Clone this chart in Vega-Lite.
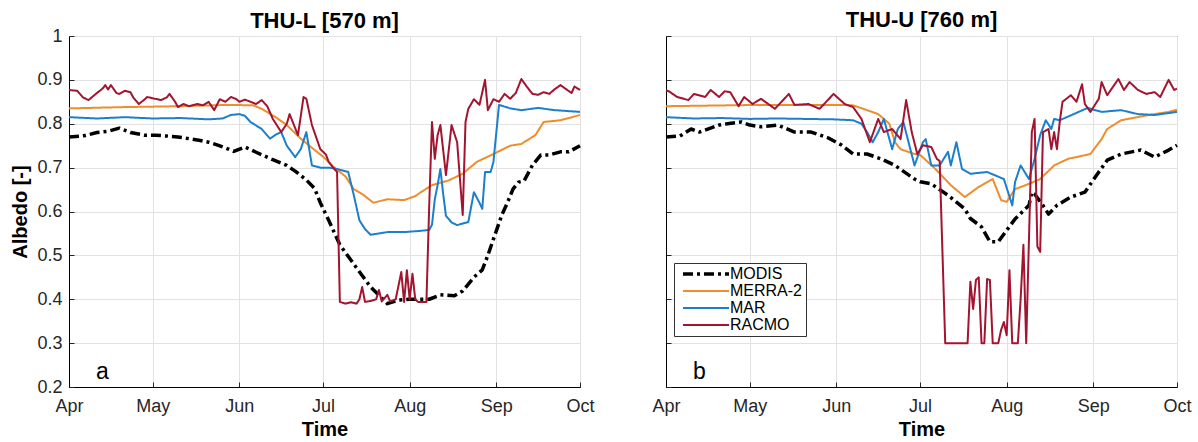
{
  "$schema": "https://vega.github.io/schema/vega-lite/v6.json",
  "padding": {"left": 10, "top": 8, "right": 5, "bottom": 0},
  "spacing": 86,
  "bounds": "flush",
  "config": {
    "font": "Liberation Sans",
    "view": {"stroke": "black", "strokeWidth": 1},
    "axis": {"gridColor": "#e2e2e2", "gridWidth": 1, "domainColor": "black", "labelFontSize": 18, "labelColor": "#262626", "titleFontSize": 20, "titleFontWeight": "bold", "titleColor": "black", "ticks": true, "tickSize": -5, "tickColor": "#262626", "tickWidth": 1},
    "axisX": {"labelPadding": 15, "titlePadding": 4, "labelFlush": false},
    "axisY": {"labelPadding": 12, "titlePadding": 6},
    "title": {"fontSize": 22, "fontWeight": "bold", "color": "black"}
  },
  "datasets": {
    "thuL": [
      {"date": "2016-04-01", "model": "MODIS", "albedo": 0.77},
      {"date": "2016-04-06", "model": "MODIS", "albedo": 0.772},
      {"date": "2016-04-11", "model": "MODIS", "albedo": 0.78},
      {"date": "2016-04-15", "model": "MODIS", "albedo": 0.783},
      {"date": "2016-04-19", "model": "MODIS", "albedo": 0.79},
      {"date": "2016-04-23", "model": "MODIS", "albedo": 0.78},
      {"date": "2016-04-28", "model": "MODIS", "albedo": 0.774},
      {"date": "2016-05-02", "model": "MODIS", "albedo": 0.774},
      {"date": "2016-05-06", "model": "MODIS", "albedo": 0.772},
      {"date": "2016-05-10", "model": "MODIS", "albedo": 0.77},
      {"date": "2016-05-14", "model": "MODIS", "albedo": 0.766},
      {"date": "2016-05-18", "model": "MODIS", "albedo": 0.762},
      {"date": "2016-05-21", "model": "MODIS", "albedo": 0.758},
      {"date": "2016-05-24", "model": "MODIS", "albedo": 0.752},
      {"date": "2016-05-27", "model": "MODIS", "albedo": 0.745},
      {"date": "2016-05-30", "model": "MODIS", "albedo": 0.737},
      {"date": "2016-06-03", "model": "MODIS", "albedo": 0.747},
      {"date": "2016-06-07", "model": "MODIS", "albedo": 0.735},
      {"date": "2016-06-13", "model": "MODIS", "albedo": 0.718},
      {"date": "2016-06-18", "model": "MODIS", "albedo": 0.705},
      {"date": "2016-06-21", "model": "MODIS", "albedo": 0.692},
      {"date": "2016-06-25", "model": "MODIS", "albedo": 0.672},
      {"date": "2016-06-28", "model": "MODIS", "albedo": 0.652},
      {"date": "2016-06-30", "model": "MODIS", "albedo": 0.62},
      {"date": "2016-07-03", "model": "MODIS", "albedo": 0.58},
      {"date": "2016-07-07", "model": "MODIS", "albedo": 0.524},
      {"date": "2016-07-12", "model": "MODIS", "albedo": 0.48},
      {"date": "2016-07-18", "model": "MODIS", "albedo": 0.428},
      {"date": "2016-07-24", "model": "MODIS", "albedo": 0.39},
      {"date": "2016-07-28", "model": "MODIS", "albedo": 0.398},
      {"date": "2016-08-01", "model": "MODIS", "albedo": 0.4},
      {"date": "2016-08-08", "model": "MODIS", "albedo": 0.4},
      {"date": "2016-08-12", "model": "MODIS", "albedo": 0.41},
      {"date": "2016-08-17", "model": "MODIS", "albedo": 0.408},
      {"date": "2016-08-20", "model": "MODIS", "albedo": 0.419},
      {"date": "2016-08-24", "model": "MODIS", "albedo": 0.45},
      {"date": "2016-08-27", "model": "MODIS", "albedo": 0.467},
      {"date": "2016-08-29", "model": "MODIS", "albedo": 0.5},
      {"date": "2016-08-31", "model": "MODIS", "albedo": 0.537},
      {"date": "2016-09-03", "model": "MODIS", "albedo": 0.592},
      {"date": "2016-09-05", "model": "MODIS", "albedo": 0.62},
      {"date": "2016-09-07", "model": "MODIS", "albedo": 0.651},
      {"date": "2016-09-09", "model": "MODIS", "albedo": 0.667},
      {"date": "2016-09-11", "model": "MODIS", "albedo": 0.67},
      {"date": "2016-09-14", "model": "MODIS", "albedo": 0.706},
      {"date": "2016-09-17", "model": "MODIS", "albedo": 0.729},
      {"date": "2016-09-20", "model": "MODIS", "albedo": 0.729},
      {"date": "2016-09-24", "model": "MODIS", "albedo": 0.736},
      {"date": "2016-09-27", "model": "MODIS", "albedo": 0.736},
      {"date": "2016-10-01", "model": "MODIS", "albedo": 0.75},

      {"date": "2016-04-01", "model": "MERRA-2", "albedo": 0.835},
      {"date": "2016-04-21", "model": "MERRA-2", "albedo": 0.838},
      {"date": "2016-05-11", "model": "MERRA-2", "albedo": 0.84},
      {"date": "2016-05-28", "model": "MERRA-2", "albedo": 0.843},
      {"date": "2016-06-06", "model": "MERRA-2", "albedo": 0.842},
      {"date": "2016-06-09", "model": "MERRA-2", "albedo": 0.834},
      {"date": "2016-06-14", "model": "MERRA-2", "albedo": 0.815},
      {"date": "2016-06-18", "model": "MERRA-2", "albedo": 0.797},
      {"date": "2016-06-23", "model": "MERRA-2", "albedo": 0.766},
      {"date": "2016-06-28", "model": "MERRA-2", "albedo": 0.74},
      {"date": "2016-07-01", "model": "MERRA-2", "albedo": 0.725},
      {"date": "2016-07-05", "model": "MERRA-2", "albedo": 0.7},
      {"date": "2016-07-09", "model": "MERRA-2", "albedo": 0.68},
      {"date": "2016-07-12", "model": "MERRA-2", "albedo": 0.651},
      {"date": "2016-07-15", "model": "MERRA-2", "albedo": 0.64},
      {"date": "2016-07-19", "model": "MERRA-2", "albedo": 0.62},
      {"date": "2016-07-24", "model": "MERRA-2", "albedo": 0.628},
      {"date": "2016-07-30", "model": "MERRA-2", "albedo": 0.626},
      {"date": "2016-08-03", "model": "MERRA-2", "albedo": 0.635},
      {"date": "2016-08-05", "model": "MERRA-2", "albedo": 0.644},
      {"date": "2016-08-09", "model": "MERRA-2", "albedo": 0.66},
      {"date": "2016-08-15", "model": "MERRA-2", "albedo": 0.671},
      {"date": "2016-08-20", "model": "MERRA-2", "albedo": 0.686},
      {"date": "2016-08-25", "model": "MERRA-2", "albedo": 0.713},
      {"date": "2016-08-31", "model": "MERRA-2", "albedo": 0.731},
      {"date": "2016-09-06", "model": "MERRA-2", "albedo": 0.75},
      {"date": "2016-09-10", "model": "MERRA-2", "albedo": 0.754},
      {"date": "2016-09-15", "model": "MERRA-2", "albedo": 0.774},
      {"date": "2016-09-18", "model": "MERRA-2", "albedo": 0.804},
      {"date": "2016-09-24", "model": "MERRA-2", "albedo": 0.808},
      {"date": "2016-10-01", "model": "MERRA-2", "albedo": 0.82},

      {"date": "2016-04-01", "model": "MAR", "albedo": 0.815},
      {"date": "2016-04-11", "model": "MAR", "albedo": 0.812},
      {"date": "2016-04-21", "model": "MAR", "albedo": 0.815},
      {"date": "2016-05-01", "model": "MAR", "albedo": 0.812},
      {"date": "2016-05-11", "model": "MAR", "albedo": 0.813},
      {"date": "2016-05-21", "model": "MAR", "albedo": 0.81},
      {"date": "2016-05-26", "model": "MAR", "albedo": 0.812},
      {"date": "2016-05-29", "model": "MAR", "albedo": 0.82},
      {"date": "2016-06-01", "model": "MAR", "albedo": 0.822},
      {"date": "2016-06-03", "model": "MAR", "albedo": 0.818},
      {"date": "2016-06-05", "model": "MAR", "albedo": 0.804},
      {"date": "2016-06-09", "model": "MAR", "albedo": 0.788},
      {"date": "2016-06-12", "model": "MAR", "albedo": 0.766},
      {"date": "2016-06-14", "model": "MAR", "albedo": 0.775},
      {"date": "2016-06-16", "model": "MAR", "albedo": 0.781},
      {"date": "2016-06-18", "model": "MAR", "albedo": 0.75},
      {"date": "2016-06-21", "model": "MAR", "albedo": 0.724},
      {"date": "2016-06-23", "model": "MAR", "albedo": 0.742},
      {"date": "2016-06-25", "model": "MAR", "albedo": 0.781},
      {"date": "2016-06-27", "model": "MAR", "albedo": 0.705},
      {"date": "2016-06-30", "model": "MAR", "albedo": 0.7},
      {"date": "2016-07-03", "model": "MAR", "albedo": 0.7},
      {"date": "2016-07-06", "model": "MAR", "albedo": 0.697},
      {"date": "2016-07-10", "model": "MAR", "albedo": 0.69},
      {"date": "2016-07-12", "model": "MAR", "albedo": 0.637},
      {"date": "2016-07-14", "model": "MAR", "albedo": 0.58},
      {"date": "2016-07-16", "model": "MAR", "albedo": 0.56},
      {"date": "2016-07-18", "model": "MAR", "albedo": 0.547},
      {"date": "2016-07-24", "model": "MAR", "albedo": 0.553},
      {"date": "2016-07-30", "model": "MAR", "albedo": 0.553},
      {"date": "2016-08-05", "model": "MAR", "albedo": 0.556},
      {"date": "2016-08-08", "model": "MAR", "albedo": 0.558},
      {"date": "2016-08-09", "model": "MAR", "albedo": 0.57},
      {"date": "2016-08-10", "model": "MAR", "albedo": 0.628},
      {"date": "2016-08-11", "model": "MAR", "albedo": 0.66},
      {"date": "2016-08-12", "model": "MAR", "albedo": 0.697},
      {"date": "2016-08-13", "model": "MAR", "albedo": 0.64},
      {"date": "2016-08-14", "model": "MAR", "albedo": 0.59},
      {"date": "2016-08-16", "model": "MAR", "albedo": 0.575},
      {"date": "2016-08-18", "model": "MAR", "albedo": 0.569},
      {"date": "2016-08-22", "model": "MAR", "albedo": 0.576},
      {"date": "2016-08-24", "model": "MAR", "albedo": 0.644},
      {"date": "2016-08-26", "model": "MAR", "albedo": 0.62},
      {"date": "2016-08-27", "model": "MAR", "albedo": 0.606},
      {"date": "2016-08-28", "model": "MAR", "albedo": 0.69},
      {"date": "2016-08-30", "model": "MAR", "albedo": 0.69},
      {"date": "2016-08-31", "model": "MAR", "albedo": 0.713},
      {"date": "2016-09-02", "model": "MAR", "albedo": 0.843},
      {"date": "2016-09-06", "model": "MAR", "albedo": 0.835},
      {"date": "2016-09-10", "model": "MAR", "albedo": 0.831},
      {"date": "2016-09-16", "model": "MAR", "albedo": 0.836},
      {"date": "2016-09-22", "model": "MAR", "albedo": 0.831},
      {"date": "2016-10-01", "model": "MAR", "albedo": 0.827},

      {"date": "2016-04-01", "model": "RACMO", "albedo": 0.877},
      {"date": "2016-04-04", "model": "RACMO", "albedo": 0.875},
      {"date": "2016-04-06", "model": "RACMO", "albedo": 0.86},
      {"date": "2016-04-08", "model": "RACMO", "albedo": 0.854},
      {"date": "2016-04-11", "model": "RACMO", "albedo": 0.87},
      {"date": "2016-04-13", "model": "RACMO", "albedo": 0.88},
      {"date": "2016-04-14", "model": "RACMO", "albedo": 0.888},
      {"date": "2016-04-15", "model": "RACMO", "albedo": 0.878},
      {"date": "2016-04-16", "model": "RACMO", "albedo": 0.888},
      {"date": "2016-04-18", "model": "RACMO", "albedo": 0.87},
      {"date": "2016-04-19", "model": "RACMO", "albedo": 0.868},
      {"date": "2016-04-21", "model": "RACMO", "albedo": 0.875},
      {"date": "2016-04-23", "model": "RACMO", "albedo": 0.872},
      {"date": "2016-04-24", "model": "RACMO", "albedo": 0.86},
      {"date": "2016-04-26", "model": "RACMO", "albedo": 0.845},
      {"date": "2016-04-28", "model": "RACMO", "albedo": 0.855},
      {"date": "2016-04-29", "model": "RACMO", "albedo": 0.861},
      {"date": "2016-05-01", "model": "RACMO", "albedo": 0.858},
      {"date": "2016-05-04", "model": "RACMO", "albedo": 0.854},
      {"date": "2016-05-06", "model": "RACMO", "albedo": 0.86},
      {"date": "2016-05-07", "model": "RACMO", "albedo": 0.868},
      {"date": "2016-05-09", "model": "RACMO", "albedo": 0.85},
      {"date": "2016-05-10", "model": "RACMO", "albedo": 0.838},
      {"date": "2016-05-12", "model": "RACMO", "albedo": 0.845},
      {"date": "2016-05-14", "model": "RACMO", "albedo": 0.84},
      {"date": "2016-05-17", "model": "RACMO", "albedo": 0.845},
      {"date": "2016-05-19", "model": "RACMO", "albedo": 0.842},
      {"date": "2016-05-21", "model": "RACMO", "albedo": 0.85},
      {"date": "2016-05-23", "model": "RACMO", "albedo": 0.831},
      {"date": "2016-05-25", "model": "RACMO", "albedo": 0.856},
      {"date": "2016-05-27", "model": "RACMO", "albedo": 0.85},
      {"date": "2016-05-29", "model": "RACMO", "albedo": 0.861},
      {"date": "2016-05-31", "model": "RACMO", "albedo": 0.856},
      {"date": "2016-06-01", "model": "RACMO", "albedo": 0.85},
      {"date": "2016-06-03", "model": "RACMO", "albedo": 0.855},
      {"date": "2016-06-05", "model": "RACMO", "albedo": 0.85},
      {"date": "2016-06-07", "model": "RACMO", "albedo": 0.845},
      {"date": "2016-06-09", "model": "RACMO", "albedo": 0.854},
      {"date": "2016-06-11", "model": "RACMO", "albedo": 0.84},
      {"date": "2016-06-13", "model": "RACMO", "albedo": 0.811},
      {"date": "2016-06-16", "model": "RACMO", "albedo": 0.781},
      {"date": "2016-06-18", "model": "RACMO", "albedo": 0.8},
      {"date": "2016-06-19", "model": "RACMO", "albedo": 0.822},
      {"date": "2016-06-21", "model": "RACMO", "albedo": 0.79},
      {"date": "2016-06-22", "model": "RACMO", "albedo": 0.774},
      {"date": "2016-06-24", "model": "RACMO", "albedo": 0.861},
      {"date": "2016-06-25", "model": "RACMO", "albedo": 0.857},
      {"date": "2016-06-27", "model": "RACMO", "albedo": 0.797},
      {"date": "2016-06-30", "model": "RACMO", "albedo": 0.742},
      {"date": "2016-07-02", "model": "RACMO", "albedo": 0.73},
      {"date": "2016-07-03", "model": "RACMO", "albedo": 0.713},
      {"date": "2016-07-05", "model": "RACMO", "albedo": 0.697},
      {"date": "2016-07-06", "model": "RACMO", "albedo": 0.69},
      {"date": "2016-07-07", "model": "RACMO", "albedo": 0.394},
      {"date": "2016-07-09", "model": "RACMO", "albedo": 0.39},
      {"date": "2016-07-11", "model": "RACMO", "albedo": 0.393},
      {"date": "2016-07-13", "model": "RACMO", "albedo": 0.39},
      {"date": "2016-07-14", "model": "RACMO", "albedo": 0.4},
      {"date": "2016-07-15", "model": "RACMO", "albedo": 0.428},
      {"date": "2016-07-16", "model": "RACMO", "albedo": 0.394},
      {"date": "2016-07-18", "model": "RACMO", "albedo": 0.396},
      {"date": "2016-07-20", "model": "RACMO", "albedo": 0.4},
      {"date": "2016-07-21", "model": "RACMO", "albedo": 0.421},
      {"date": "2016-07-22", "model": "RACMO", "albedo": 0.395},
      {"date": "2016-07-24", "model": "RACMO", "albedo": 0.41},
      {"date": "2016-07-25", "model": "RACMO", "albedo": 0.395},
      {"date": "2016-07-27", "model": "RACMO", "albedo": 0.4},
      {"date": "2016-07-29", "model": "RACMO", "albedo": 0.462},
      {"date": "2016-07-30", "model": "RACMO", "albedo": 0.394},
      {"date": "2016-07-31", "model": "RACMO", "albedo": 0.466},
      {"date": "2016-08-01", "model": "RACMO", "albedo": 0.4},
      {"date": "2016-08-02", "model": "RACMO", "albedo": 0.458},
      {"date": "2016-08-03", "model": "RACMO", "albedo": 0.4},
      {"date": "2016-08-04", "model": "RACMO", "albedo": 0.394},
      {"date": "2016-08-07", "model": "RACMO", "albedo": 0.394},
      {"date": "2016-08-08", "model": "RACMO", "albedo": 0.614},
      {"date": "2016-08-09", "model": "RACMO", "albedo": 0.804},
      {"date": "2016-08-10", "model": "RACMO", "albedo": 0.72},
      {"date": "2016-08-11", "model": "RACMO", "albedo": 0.774},
      {"date": "2016-08-12", "model": "RACMO", "albedo": 0.797},
      {"date": "2016-08-14", "model": "RACMO", "albedo": 0.683},
      {"date": "2016-08-16", "model": "RACMO", "albedo": 0.797},
      {"date": "2016-08-18", "model": "RACMO", "albedo": 0.758},
      {"date": "2016-08-20", "model": "RACMO", "albedo": 0.592},
      {"date": "2016-08-21", "model": "RACMO", "albedo": 0.804},
      {"date": "2016-08-22", "model": "RACMO", "albedo": 0.834},
      {"date": "2016-08-24", "model": "RACMO", "albedo": 0.856},
      {"date": "2016-08-26", "model": "RACMO", "albedo": 0.843},
      {"date": "2016-08-28", "model": "RACMO", "albedo": 0.9},
      {"date": "2016-08-29", "model": "RACMO", "albedo": 0.831},
      {"date": "2016-08-31", "model": "RACMO", "albedo": 0.856},
      {"date": "2016-09-02", "model": "RACMO", "albedo": 0.85},
      {"date": "2016-09-04", "model": "RACMO", "albedo": 0.868},
      {"date": "2016-09-06", "model": "RACMO", "albedo": 0.857},
      {"date": "2016-09-08", "model": "RACMO", "albedo": 0.87},
      {"date": "2016-09-10", "model": "RACMO", "albedo": 0.902},
      {"date": "2016-09-12", "model": "RACMO", "albedo": 0.884},
      {"date": "2016-09-14", "model": "RACMO", "albedo": 0.868},
      {"date": "2016-09-16", "model": "RACMO", "albedo": 0.866},
      {"date": "2016-09-18", "model": "RACMO", "albedo": 0.872},
      {"date": "2016-09-20", "model": "RACMO", "albedo": 0.868},
      {"date": "2016-09-22", "model": "RACMO", "albedo": 0.879},
      {"date": "2016-09-24", "model": "RACMO", "albedo": 0.888},
      {"date": "2016-09-26", "model": "RACMO", "albedo": 0.879},
      {"date": "2016-09-28", "model": "RACMO", "albedo": 0.87},
      {"date": "2016-09-29", "model": "RACMO", "albedo": 0.885},
      {"date": "2016-10-01", "model": "RACMO", "albedo": 0.877}
    ],
    "thuU": [
      {"date": "2016-04-01", "model": "MODIS", "albedo": 0.77},
      {"date": "2016-04-06", "model": "MODIS", "albedo": 0.772},
      {"date": "2016-04-10", "model": "MODIS", "albedo": 0.788},
      {"date": "2016-04-13", "model": "MODIS", "albedo": 0.781},
      {"date": "2016-04-20", "model": "MODIS", "albedo": 0.797},
      {"date": "2016-04-23", "model": "MODIS", "albedo": 0.8},
      {"date": "2016-04-28", "model": "MODIS", "albedo": 0.804},
      {"date": "2016-05-01", "model": "MODIS", "albedo": 0.797},
      {"date": "2016-05-05", "model": "MODIS", "albedo": 0.793},
      {"date": "2016-05-11", "model": "MODIS", "albedo": 0.797},
      {"date": "2016-05-17", "model": "MODIS", "albedo": 0.781},
      {"date": "2016-05-23", "model": "MODIS", "albedo": 0.781},
      {"date": "2016-05-29", "model": "MODIS", "albedo": 0.768},
      {"date": "2016-06-03", "model": "MODIS", "albedo": 0.751},
      {"date": "2016-06-07", "model": "MODIS", "albedo": 0.731},
      {"date": "2016-06-12", "model": "MODIS", "albedo": 0.731},
      {"date": "2016-06-17", "model": "MODIS", "albedo": 0.72},
      {"date": "2016-06-22", "model": "MODIS", "albedo": 0.705},
      {"date": "2016-06-29", "model": "MODIS", "albedo": 0.674},
      {"date": "2016-07-01", "model": "MODIS", "albedo": 0.668},
      {"date": "2016-07-05", "model": "MODIS", "albedo": 0.663},
      {"date": "2016-07-11", "model": "MODIS", "albedo": 0.637},
      {"date": "2016-07-17", "model": "MODIS", "albedo": 0.606},
      {"date": "2016-07-19", "model": "MODIS", "albedo": 0.584},
      {"date": "2016-07-23", "model": "MODIS", "albedo": 0.565},
      {"date": "2016-07-26", "model": "MODIS", "albedo": 0.531},
      {"date": "2016-07-29", "model": "MODIS", "albedo": 0.531},
      {"date": "2016-08-04", "model": "MODIS", "albedo": 0.583},
      {"date": "2016-08-09", "model": "MODIS", "albedo": 0.614},
      {"date": "2016-08-10", "model": "MODIS", "albedo": 0.644},
      {"date": "2016-08-11", "model": "MODIS", "albedo": 0.64},
      {"date": "2016-08-14", "model": "MODIS", "albedo": 0.614},
      {"date": "2016-08-16", "model": "MODIS", "albedo": 0.594},
      {"date": "2016-08-19", "model": "MODIS", "albedo": 0.614},
      {"date": "2016-08-24", "model": "MODIS", "albedo": 0.633},
      {"date": "2016-08-29", "model": "MODIS", "albedo": 0.644},
      {"date": "2016-09-03", "model": "MODIS", "albedo": 0.69},
      {"date": "2016-09-06", "model": "MODIS", "albedo": 0.717},
      {"date": "2016-09-11", "model": "MODIS", "albedo": 0.731},
      {"date": "2016-09-18", "model": "MODIS", "albedo": 0.74},
      {"date": "2016-09-23", "model": "MODIS", "albedo": 0.724},
      {"date": "2016-09-28", "model": "MODIS", "albedo": 0.74},
      {"date": "2016-10-01", "model": "MODIS", "albedo": 0.751},

      {"date": "2016-04-01", "model": "MERRA-2", "albedo": 0.84},
      {"date": "2016-05-05", "model": "MERRA-2", "albedo": 0.843},
      {"date": "2016-06-02", "model": "MERRA-2", "albedo": 0.843},
      {"date": "2016-06-07", "model": "MERRA-2", "albedo": 0.842},
      {"date": "2016-06-12", "model": "MERRA-2", "albedo": 0.831},
      {"date": "2016-06-16", "model": "MERRA-2", "albedo": 0.822},
      {"date": "2016-06-20", "model": "MERRA-2", "albedo": 0.8},
      {"date": "2016-06-22", "model": "MERRA-2", "albedo": 0.758},
      {"date": "2016-06-24", "model": "MERRA-2", "albedo": 0.742},
      {"date": "2016-06-29", "model": "MERRA-2", "albedo": 0.731},
      {"date": "2016-07-01", "model": "MERRA-2", "albedo": 0.729},
      {"date": "2016-07-06", "model": "MERRA-2", "albedo": 0.7},
      {"date": "2016-07-12", "model": "MERRA-2", "albedo": 0.66},
      {"date": "2016-07-17", "model": "MERRA-2", "albedo": 0.633},
      {"date": "2016-07-22", "model": "MERRA-2", "albedo": 0.656},
      {"date": "2016-07-27", "model": "MERRA-2", "albedo": 0.674},
      {"date": "2016-07-30", "model": "MERRA-2", "albedo": 0.626},
      {"date": "2016-08-01", "model": "MERRA-2", "albedo": 0.622},
      {"date": "2016-08-04", "model": "MERRA-2", "albedo": 0.651},
      {"date": "2016-08-09", "model": "MERRA-2", "albedo": 0.663},
      {"date": "2016-08-13", "model": "MERRA-2", "albedo": 0.674},
      {"date": "2016-08-18", "model": "MERRA-2", "albedo": 0.705},
      {"date": "2016-08-23", "model": "MERRA-2", "albedo": 0.72},
      {"date": "2016-08-31", "model": "MERRA-2", "albedo": 0.731},
      {"date": "2016-09-04", "model": "MERRA-2", "albedo": 0.765},
      {"date": "2016-09-06", "model": "MERRA-2", "albedo": 0.788},
      {"date": "2016-09-11", "model": "MERRA-2", "albedo": 0.808},
      {"date": "2016-09-21", "model": "MERRA-2", "albedo": 0.82},
      {"date": "2016-09-28", "model": "MERRA-2", "albedo": 0.827},
      {"date": "2016-10-01", "model": "MERRA-2", "albedo": 0.832},

      {"date": "2016-04-01", "model": "MAR", "albedo": 0.815},
      {"date": "2016-04-11", "model": "MAR", "albedo": 0.812},
      {"date": "2016-04-21", "model": "MAR", "albedo": 0.813},
      {"date": "2016-05-01", "model": "MAR", "albedo": 0.811},
      {"date": "2016-05-11", "model": "MAR", "albedo": 0.812},
      {"date": "2016-05-21", "model": "MAR", "albedo": 0.811},
      {"date": "2016-05-31", "model": "MAR", "albedo": 0.81},
      {"date": "2016-06-07", "model": "MAR", "albedo": 0.808},
      {"date": "2016-06-10", "model": "MAR", "albedo": 0.8},
      {"date": "2016-06-12", "model": "MAR", "albedo": 0.781},
      {"date": "2016-06-14", "model": "MAR", "albedo": 0.758},
      {"date": "2016-06-16", "model": "MAR", "albedo": 0.781},
      {"date": "2016-06-18", "model": "MAR", "albedo": 0.811},
      {"date": "2016-06-21", "model": "MAR", "albedo": 0.742},
      {"date": "2016-06-23", "model": "MAR", "albedo": 0.788},
      {"date": "2016-06-25", "model": "MAR", "albedo": 0.804},
      {"date": "2016-06-29", "model": "MAR", "albedo": 0.705},
      {"date": "2016-07-02", "model": "MAR", "albedo": 0.758},
      {"date": "2016-07-03", "model": "MAR", "albedo": 0.765},
      {"date": "2016-07-05", "model": "MAR", "albedo": 0.705},
      {"date": "2016-07-08", "model": "MAR", "albedo": 0.705},
      {"date": "2016-07-11", "model": "MAR", "albedo": 0.736},
      {"date": "2016-07-12", "model": "MAR", "albedo": 0.705},
      {"date": "2016-07-14", "model": "MAR", "albedo": 0.758},
      {"date": "2016-07-16", "model": "MAR", "albedo": 0.697},
      {"date": "2016-07-19", "model": "MAR", "albedo": 0.686},
      {"date": "2016-07-25", "model": "MAR", "albedo": 0.69},
      {"date": "2016-07-31", "model": "MAR", "albedo": 0.674},
      {"date": "2016-08-03", "model": "MAR", "albedo": 0.614},
      {"date": "2016-08-04", "model": "MAR", "albedo": 0.667},
      {"date": "2016-08-06", "model": "MAR", "albedo": 0.705},
      {"date": "2016-08-09", "model": "MAR", "albedo": 0.674},
      {"date": "2016-08-11", "model": "MAR", "albedo": 0.72},
      {"date": "2016-08-13", "model": "MAR", "albedo": 0.774},
      {"date": "2016-08-15", "model": "MAR", "albedo": 0.808},
      {"date": "2016-08-17", "model": "MAR", "albedo": 0.788},
      {"date": "2016-08-18", "model": "MAR", "albedo": 0.811},
      {"date": "2016-08-20", "model": "MAR", "albedo": 0.808},
      {"date": "2016-08-25", "model": "MAR", "albedo": 0.822},
      {"date": "2016-08-30", "model": "MAR", "albedo": 0.836},
      {"date": "2016-09-04", "model": "MAR", "albedo": 0.827},
      {"date": "2016-09-11", "model": "MAR", "albedo": 0.831},
      {"date": "2016-09-17", "model": "MAR", "albedo": 0.822},
      {"date": "2016-09-23", "model": "MAR", "albedo": 0.82},
      {"date": "2016-10-01", "model": "MAR", "albedo": 0.827},

      {"date": "2016-04-01", "model": "RACMO", "albedo": 0.876},
      {"date": "2016-04-02", "model": "RACMO", "albedo": 0.874},
      {"date": "2016-04-05", "model": "RACMO", "albedo": 0.861},
      {"date": "2016-04-09", "model": "RACMO", "albedo": 0.854},
      {"date": "2016-04-11", "model": "RACMO", "albedo": 0.868},
      {"date": "2016-04-15", "model": "RACMO", "albedo": 0.861},
      {"date": "2016-04-17", "model": "RACMO", "albedo": 0.877},
      {"date": "2016-04-20", "model": "RACMO", "albedo": 0.861},
      {"date": "2016-04-22", "model": "RACMO", "albedo": 0.874},
      {"date": "2016-04-24", "model": "RACMO", "albedo": 0.872},
      {"date": "2016-04-27", "model": "RACMO", "albedo": 0.84},
      {"date": "2016-04-29", "model": "RACMO", "albedo": 0.861},
      {"date": "2016-05-02", "model": "RACMO", "albedo": 0.845},
      {"date": "2016-05-05", "model": "RACMO", "albedo": 0.857},
      {"date": "2016-05-10", "model": "RACMO", "albedo": 0.834},
      {"date": "2016-05-15", "model": "RACMO", "albedo": 0.868},
      {"date": "2016-05-17", "model": "RACMO", "albedo": 0.843},
      {"date": "2016-05-22", "model": "RACMO", "albedo": 0.845},
      {"date": "2016-05-26", "model": "RACMO", "albedo": 0.834},
      {"date": "2016-05-31", "model": "RACMO", "albedo": 0.868},
      {"date": "2016-06-04", "model": "RACMO", "albedo": 0.845},
      {"date": "2016-06-07", "model": "RACMO", "albedo": 0.838},
      {"date": "2016-06-10", "model": "RACMO", "albedo": 0.811},
      {"date": "2016-06-13", "model": "RACMO", "albedo": 0.758},
      {"date": "2016-06-16", "model": "RACMO", "albedo": 0.811},
      {"date": "2016-06-18", "model": "RACMO", "albedo": 0.781},
      {"date": "2016-06-21", "model": "RACMO", "albedo": 0.788},
      {"date": "2016-06-24", "model": "RACMO", "albedo": 0.765},
      {"date": "2016-06-26", "model": "RACMO", "albedo": 0.854},
      {"date": "2016-06-28", "model": "RACMO", "albedo": 0.781},
      {"date": "2016-06-30", "model": "RACMO", "albedo": 0.731},
      {"date": "2016-07-02", "model": "RACMO", "albedo": 0.751},
      {"date": "2016-07-05", "model": "RACMO", "albedo": 0.747},
      {"date": "2016-07-07", "model": "RACMO", "albedo": 0.72},
      {"date": "2016-07-08", "model": "RACMO", "albedo": 0.715},
      {"date": "2016-07-10", "model": "RACMO", "albedo": 0.3},
      {"date": "2016-07-14", "model": "RACMO", "albedo": 0.3},
      {"date": "2016-07-18", "model": "RACMO", "albedo": 0.3},
      {"date": "2016-07-19", "model": "RACMO", "albedo": 0.44},
      {"date": "2016-07-20", "model": "RACMO", "albedo": 0.378},
      {"date": "2016-07-21", "model": "RACMO", "albedo": 0.444},
      {"date": "2016-07-22", "model": "RACMO", "albedo": 0.45},
      {"date": "2016-07-23", "model": "RACMO", "albedo": 0.3},
      {"date": "2016-07-24", "model": "RACMO", "albedo": 0.3},
      {"date": "2016-07-25", "model": "RACMO", "albedo": 0.446},
      {"date": "2016-07-26", "model": "RACMO", "albedo": 0.444},
      {"date": "2016-07-27", "model": "RACMO", "albedo": 0.3},
      {"date": "2016-07-29", "model": "RACMO", "albedo": 0.3},
      {"date": "2016-07-30", "model": "RACMO", "albedo": 0.33},
      {"date": "2016-07-31", "model": "RACMO", "albedo": 0.348},
      {"date": "2016-08-01", "model": "RACMO", "albedo": 0.318},
      {"date": "2016-08-02", "model": "RACMO", "albedo": 0.466},
      {"date": "2016-08-03", "model": "RACMO", "albedo": 0.3},
      {"date": "2016-08-05", "model": "RACMO", "albedo": 0.3},
      {"date": "2016-08-06", "model": "RACMO", "albedo": 0.4},
      {"date": "2016-08-07", "model": "RACMO", "albedo": 0.524},
      {"date": "2016-08-08", "model": "RACMO", "albedo": 0.3},
      {"date": "2016-08-10", "model": "RACMO", "albedo": 0.781},
      {"date": "2016-08-11", "model": "RACMO", "albedo": 0.811},
      {"date": "2016-08-12", "model": "RACMO", "albedo": 0.52},
      {"date": "2016-08-13", "model": "RACMO", "albedo": 0.508},
      {"date": "2016-08-14", "model": "RACMO", "albedo": 0.781},
      {"date": "2016-08-16", "model": "RACMO", "albedo": 0.788},
      {"date": "2016-08-17", "model": "RACMO", "albedo": 0.742},
      {"date": "2016-08-18", "model": "RACMO", "albedo": 0.781},
      {"date": "2016-08-19", "model": "RACMO", "albedo": 0.742},
      {"date": "2016-08-20", "model": "RACMO", "albedo": 0.804},
      {"date": "2016-08-21", "model": "RACMO", "albedo": 0.85},
      {"date": "2016-08-24", "model": "RACMO", "albedo": 0.865},
      {"date": "2016-08-26", "model": "RACMO", "albedo": 0.85},
      {"date": "2016-08-28", "model": "RACMO", "albedo": 0.89},
      {"date": "2016-08-29", "model": "RACMO", "albedo": 0.845},
      {"date": "2016-08-31", "model": "RACMO", "albedo": 0.827},
      {"date": "2016-09-03", "model": "RACMO", "albedo": 0.857},
      {"date": "2016-09-04", "model": "RACMO", "albedo": 0.895},
      {"date": "2016-09-06", "model": "RACMO", "albedo": 0.865},
      {"date": "2016-09-10", "model": "RACMO", "albedo": 0.902},
      {"date": "2016-09-12", "model": "RACMO", "albedo": 0.877},
      {"date": "2016-09-14", "model": "RACMO", "albedo": 0.895},
      {"date": "2016-09-17", "model": "RACMO", "albedo": 0.877},
      {"date": "2016-09-20", "model": "RACMO", "albedo": 0.868},
      {"date": "2016-09-23", "model": "RACMO", "albedo": 0.872},
      {"date": "2016-09-25", "model": "RACMO", "albedo": 0.861},
      {"date": "2016-09-28", "model": "RACMO", "albedo": 0.9},
      {"date": "2016-09-30", "model": "RACMO", "albedo": 0.877},
      {"date": "2016-10-01", "model": "RACMO", "albedo": 0.88}
    ]
  },
  "hconcat": [
    {
      "width": 511,
      "height": 351,
      "title": {"text": "THU-L [570 m]", "offset": -6},
      "layer": [
        {
          "data": {"name": "thuL"},
          "mark": {"type": "line", "strokeJoin": "round"},
          "encoding": {
            "x": {"field": "date", "type": "temporal", "scale": {"type": "utc", "nice": false, "domain": [{"year": 2016, "month": 4, "date": 1, "utc": true}, {"year": 2016, "month": 10, "date": 1, "utc": true}]}, "axis": {"title": "Time", "labelExpr": "utcFormat(datum.value, '%b')", "values": [{"year": 2016, "month": 4, "date": 1, "utc": true}, {"year": 2016, "month": 5, "date": 1, "utc": true}, {"year": 2016, "month": 6, "date": 1, "utc": true}, {"year": 2016, "month": 7, "date": 1, "utc": true}, {"year": 2016, "month": 8, "date": 1, "utc": true}, {"year": 2016, "month": 9, "date": 1, "utc": true}, {"year": 2016, "month": 10, "date": 1, "utc": true}]}},
            "y": {"field": "albedo", "type": "quantitative", "scale": {"domain": [0.2, 1]}, "axis": {"title": "Albedo [-]", "values": [0.2, 0.3, 0.4, 0.5, 0.6, 0.7, 0.8, 0.9, 1], "format": ".1~f"}},
            "color": {"field": "model", "type": "nominal", "scale": {"domain": ["MODIS", "MERRA-2", "MAR", "RACMO"], "range": ["#000000", "#EF8D2D", "#1C7FCB", "#A2142F"]}, "legend": null},
            "strokeDash": {"field": "model", "type": "nominal", "scale": {"domain": ["MODIS", "MERRA-2", "MAR", "RACMO"], "range": [[10, 4, 3, 4], [1, 0], [1, 0], [1, 0]]}, "legend": null},
            "strokeWidth": {"field": "model", "type": "nominal", "scale": {"type": "ordinal", "domain": ["MODIS", "MERRA-2", "MAR", "RACMO"], "range": [3.5, 2, 2, 2]}, "legend": null}
          }
        },
        {
          "data": {"values": [{"date": "2016-04-13", "albedo": 0.234, "label": "a"}]},
          "mark": {"type": "text", "fontSize": 23, "color": "black", "align": "center", "baseline": "middle"},
          "encoding": {
            "x": {"field": "date", "type": "temporal"},
            "y": {"field": "albedo", "type": "quantitative"},
            "text": {"field": "label"}
          }
        }
      ]
    },
    {
      "width": 511,
      "height": 351,
      "title": {"text": "THU-U [760 m]", "offset": 4},
      "layer": [
        {
          "data": {"name": "thuU"},
          "mark": {"type": "line", "strokeJoin": "round"},
          "encoding": {
            "x": {"field": "date", "type": "temporal", "scale": {"type": "utc", "nice": false, "domain": [{"year": 2016, "month": 4, "date": 1, "utc": true}, {"year": 2016, "month": 10, "date": 1, "utc": true}]}, "axis": {"title": "Time", "labelExpr": "utcFormat(datum.value, '%b')", "values": [{"year": 2016, "month": 4, "date": 1, "utc": true}, {"year": 2016, "month": 5, "date": 1, "utc": true}, {"year": 2016, "month": 6, "date": 1, "utc": true}, {"year": 2016, "month": 7, "date": 1, "utc": true}, {"year": 2016, "month": 8, "date": 1, "utc": true}, {"year": 2016, "month": 9, "date": 1, "utc": true}, {"year": 2016, "month": 10, "date": 1, "utc": true}]}},
            "y": {"field": "albedo", "type": "quantitative", "scale": {"domain": [0.2, 1]}, "axis": {"title": null, "labels": false, "values": [0.2, 0.3, 0.4, 0.5, 0.6, 0.7, 0.8, 0.9, 1]}},
            "color": {"field": "model", "type": "nominal", "scale": {"domain": ["MODIS", "MERRA-2", "MAR", "RACMO"], "range": ["#000000", "#EF8D2D", "#1C7FCB", "#A2142F"]}, "legend": {"title": null, "orient": "none", "legendX": 8, "legendY": 227, "symbolType": "M-1,0H22", "symbolSize": 16, "labelFontSize": 16, "labelColor": "black", "labelOffset": 37, "rowPadding": 1, "padding": 3, "strokeColor": "#333333", "fillColor": "white", "cornerRadius": 0}},
            "strokeDash": {"field": "model", "type": "nominal", "scale": {"domain": ["MODIS", "MERRA-2", "MAR", "RACMO"], "range": [[10, 4, 3, 4], [1, 0], [1, 0], [1, 0]]}, "legend": {"title": null, "orient": "none", "legendX": 8, "legendY": 227, "symbolType": "M-1,0H22", "symbolSize": 16, "labelFontSize": 16, "labelColor": "black", "labelOffset": 37, "rowPadding": 1, "padding": 3, "strokeColor": "#333333", "fillColor": "white", "cornerRadius": 0}},
            "strokeWidth": {"field": "model", "type": "nominal", "scale": {"type": "ordinal", "domain": ["MODIS", "MERRA-2", "MAR", "RACMO"], "range": [3.5, 2, 2, 2]}, "legend": {"title": null, "orient": "none", "legendX": 8, "legendY": 227, "symbolType": "M-1,0H22", "symbolSize": 16, "labelFontSize": 16, "labelColor": "black", "labelOffset": 37, "rowPadding": 1, "padding": 3, "strokeColor": "#333333", "fillColor": "white", "cornerRadius": 0}}
          }
        },
        {
          "data": {"values": [{"date": "2016-04-13", "albedo": 0.234, "label": "b"}]},
          "mark": {"type": "text", "fontSize": 23, "color": "black", "align": "center", "baseline": "middle"},
          "encoding": {
            "x": {"field": "date", "type": "temporal"},
            "y": {"field": "albedo", "type": "quantitative"},
            "text": {"field": "label"}
          }
        }
      ]
    }
  ],
  "resolve": {"legend": {"color": "independent", "strokeDash": "independent", "strokeWidth": "independent"}}
}
